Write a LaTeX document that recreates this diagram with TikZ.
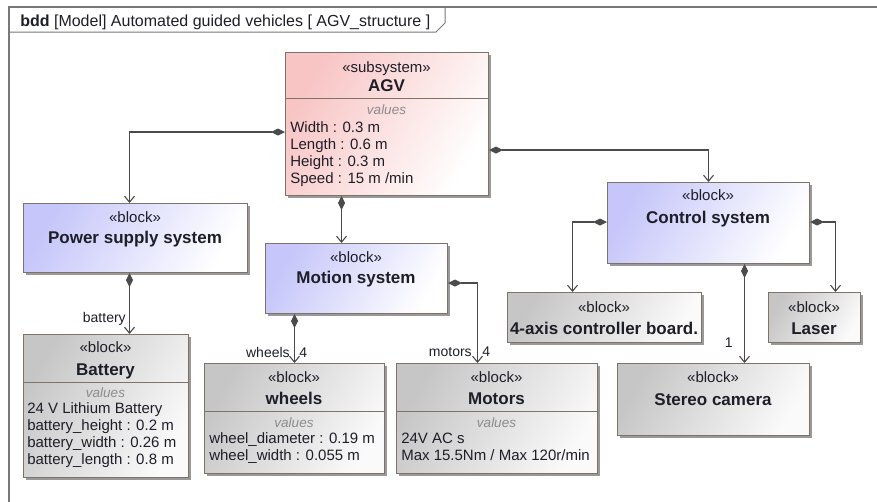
\documentclass[tikz,border=0pt]{standalone}
\usepackage{fontspec}
\setmainfont{Liberation Sans}
\usetikzlibrary{arrows.meta,shadows}

\definecolor{boxline}{RGB}{125,115,105}
\definecolor{pinkfill}{RGB}{248,196,196}
\definecolor{bluefill}{RGB}{198,198,250}
\definecolor{grayfill}{RGB}{198,198,198}
\definecolor{conline}{RGB}{75,75,75}
\definecolor{txt}{RGB}{30,30,40}
\definecolor{framegray}{RGB}{120,120,120}

\begin{document}
\begin{tikzpicture}[x=1pt,y=-1pt,semithick]
        \tikzstyle{blocknode}=[
            rectangle,
            draw=boxline,
            line width=1pt,
            anchor=north west,
            inner sep=0pt,
            drop shadow={shadow xshift=2.5pt,shadow yshift=-2.5pt,fill=black!40,opacity=1}
        ]
        \tikzstyle{pinknode}=[left color=pinkfill, right color=white, shading angle=60]
        \tikzstyle{bluenode}=[left color=bluefill, right color=white, shading angle=60]
        \tikzstyle{graynode}=[left color=grayfill, right color=white!96!gray, shading angle=60]
        \tikzstyle{stereotype}=[font=\fontsize{15}{17}\selectfont, text=txt, anchor=base, inner sep=0pt]
        \tikzstyle{blockname}=[font=\bfseries\fontsize{17}{20}\selectfont, text=txt, anchor=base, inner sep=0pt]
        \tikzstyle{valhead}=[font=\itshape\fontsize{13.5}{16}\selectfont, text=black!45, anchor=base, inner sep=0pt]
        \tikzstyle{attrlist}=[font=\fontsize{15}{17}\selectfont, text=txt, anchor=base west, inner sep=0pt, align=left]
        \tikzstyle{rolelabel}=[font=\fontsize{14}{16}\selectfont, text=txt, inner sep=0pt]
        \tikzstyle{compo}=[draw=conline, line width=1.1pt,
            arrows={Diamond[length=14pt,width=7pt]-Straight Barb[length=6pt,width=10pt]}]

        \useasboundingbox (0,0) rectangle (877,501);

        % diagram frame
        \draw[framegray, line width=1.5pt] (9,520) -- (9,7) -- (890,7);
        \draw[framegray, line width=1pt] (9,32) -- (436,32) -- (445,23) -- (445,7);
        \node[anchor=base west, inner sep=0pt, font=\fontsize{16}{18}\selectfont, text=txt] (title) at (20,26)
            {\textbf{bdd} [Model] Automated guided vehicles [ AGV\_structure ]};

        % blocks
        \node[blocknode, pinknode, minimum width=203pt, minimum height=143pt] (agv) at (285,52) {};
        \node[blocknode, bluenode, minimum width=224pt, minimum height=69pt] (pss) at (23,203) {};
        \node[blocknode, bluenode, minimum width=182pt, minimum height=70pt] (motion) at (265,243) {};
        \node[blocknode, bluenode, minimum width=202pt, minimum height=81pt] (control) at (607,182) {};
        \node[blocknode, graynode, minimum width=194pt, minimum height=50pt] (axisboard) at (507,292) {};
        \node[blocknode, graynode, minimum width=92pt, minimum height=50pt] (laser) at (768,292) {};
        \node[blocknode, graynode, minimum width=165pt, minimum height=143pt] (battery) at (23,334) {};
        \node[blocknode, graynode, minimum width=180pt, minimum height=110pt] (wheels) at (204,363) {};
        \node[blocknode, graynode, minimum width=201pt, minimum height=110pt] (motors) at (396,363) {};
        \node[blocknode, graynode, minimum width=192pt, minimum height=72pt] (stereo) at (617,363) {};

        % compartment lines
        \draw[boxline, line width=1pt] (agv.west |- 0,98) -- (agv.east |- 0,98);
        \draw[boxline, line width=1pt] (battery.west |- 0,382) -- (battery.east |- 0,382);
        \draw[boxline, line width=1pt] (wheels.west |- 0,411) -- (wheels.east |- 0,411);
        \draw[boxline, line width=1pt] (motors.west |- 0,411) -- (motors.east |- 0,411);

        % texts (attribute lists are anchored at their last line)
        \node[stereotype] (agvst) at (386.5,72) {«subsystem»};
        \node[blockname] (agvname) at (386.5,91) {AGV};
        \node[valhead] (agvval) at (386.5,114) {values};
        \node[attrlist] (agvattr) at (290,183) {Width : 0.3 m\\Length : 0.6 m\\Height : 0.3 m\\Speed : 15 m /min};

        \node[stereotype] (pssst) at (135,222) {«block»};
        \node[blockname] (pssname) at (135,243) {Power supply system};

        \node[stereotype] (motionst) at (356,262) {«block»};
        \node[blockname] (motionname) at (356,283) {Motion system};

        \node[stereotype] (controlst) at (708,200) {«block»};
        \node[blockname] (controlname) at (708,223) {Control system};

        \node[stereotype] (axisst) at (604,312) {«block»};
        \node[blockname] (axisname) at (604,334) {4-axis controller board.};

        \node[stereotype] (laserst) at (814,312) {«block»};
        \node[blockname] (lasername) at (814,334) {Laser};

        \node[stereotype] (batteryst) at (105.5,352) {«block»};
        \node[blockname] (batteryname) at (105.5,375) {Battery};
        \node[valhead] (batteryval) at (105.5,397) {values};
        \node[attrlist] (batteryattr) at (27,464) {24 V Lithium Battery\\battery\_height : 0.2 m\\battery\_width : 0.26 m\\battery\_length : 0.8 m};

        \node[stereotype] (wheelsst) at (294,382) {«block»};
        \node[blockname] (wheelsname) at (294,404) {wheels};
        \node[valhead] (wheelsval) at (294,427) {values};
        \node[attrlist] (wheelsattr) at (209,460) {wheel\_diameter : 0.19 m\\wheel\_width : 0.055 m};

        \node[stereotype] (motorsst) at (496.5,382) {«block»};
        \node[blockname] (motorsname) at (496.5,404) {Motors};
        \node[valhead] (motorsval) at (496.5,427) {values};
        \node[attrlist] (motorsattr) at (401,460) {24V AC s\\Max 15.5Nm / Max 120r/min};

        \node[stereotype] (stereost) at (713,382) {«block»};
        \node[blockname] (stereoname) at (713,405) {Stereo camera};

        % part associations
        \draw[compo] (agv.west |- 0,132) -| ([xshift=-6pt]pss.north);
        \draw[compo] ([xshift=-45.5pt]agv.south) -- ([xshift=-45.5pt]agv.south |- motion.north);
        \draw[compo] (agv.east |- 0,150) -| (control.north);
        \draw[compo] ([xshift=-6pt]pss.south) -- ([xshift=-6pt]pss.south |- battery.north);
        \draw[compo] ([xshift=-62pt]motion.south) -- (wheels.north);
        \draw[compo] (motion.east |- 0,283) -| ([xshift=-19.5pt]motors.north);
        \draw[compo] (control.west |- 0,222) -| ([xshift=-32pt]axisboard.north);
        \draw[compo] (control.east |- 0,222) -| ([xshift=21pt]laser.north);
        \draw[compo] ([xshift=36pt]control.south) -- ([xshift=36pt]control.south |- stereo.north);

        % role names and multiplicities
        \node[rolelabel, anchor=base east] (lbattery) at (126,322) {battery};
        \node[rolelabel, anchor=base east] (lwheels) at (290,357) {wheels};
        \node[rolelabel, anchor=base west] (mwheels) at (299,357) {4};
        \node[rolelabel, anchor=base east] (lmotors) at (472,356) {motors};
        \node[rolelabel, anchor=base west] (mmotors) at (482,356) {4};
        \node[rolelabel, anchor=base east] (mstereo) at (733,347) {1};
    \end{tikzpicture}
\end{document}
